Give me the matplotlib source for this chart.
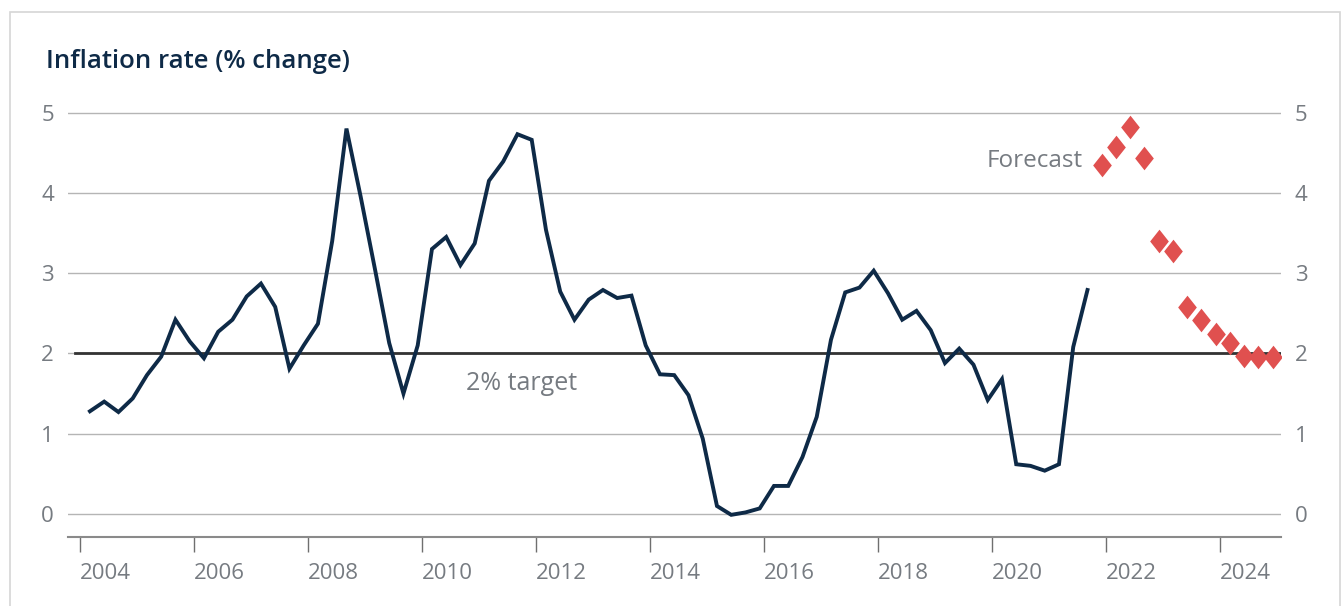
import numpy as np
import matplotlib
matplotlib.use("Agg")
import matplotlib.pyplot as plt

plt.rcParams['font.family'] = ['Open Sans', 'DejaVu Sans']

# quarterly CPI inflation, 2004 Q1 .. 2021 Q3
actual = [1.28, 1.40, 1.27, 1.44, 1.73, 1.96, 2.42, 2.15,
          1.94, 2.27, 2.42, 2.71, 2.87, 2.58, 1.81, 2.10,
          2.37, 3.40, 4.80, 3.95, 3.05, 2.13, 1.50, 2.10,
          3.30, 3.45, 3.10, 3.37, 4.15, 4.39, 4.73, 4.66,
          3.54, 2.77, 2.42, 2.67, 2.79, 2.69, 2.72, 2.10,
          1.74, 1.73, 1.48, 0.94, 0.10, -0.01, 0.02, 0.07,
          0.35, 0.35, 0.71, 1.21, 2.17, 2.76, 2.82, 3.03,
          2.75, 2.42, 2.53, 2.29, 1.88, 2.06, 1.86, 1.42,
          1.68, 0.62, 0.60, 0.54, 0.62, 2.08, 2.79]
# forecast, 2021 Q4 .. 2024 Q4
forecast = [4.35, 4.57, 4.82, 4.43, 3.40, 3.27, 2.58, 2.42,
            2.24, 2.13, 1.97, 1.96, 1.96]
year_ticks = [2004, 2006, 2008, 2010, 2012, 2014, 2016, 2018, 2020, 2022, 2024]
y_ticks = [0, 1, 2, 3, 4, 5]

t_act = 2004.175 + 0.25 * np.arange(len(actual))
t_fc = t_act[-1] + 0.25 * np.arange(1, len(forecast) + 1)

navy = '#0e2a47'
grey_txt = '#767b81'
red = '#e0504f'

fig = plt.figure(figsize=(13.43, 6.06), dpi=100)
fig.patches.append(plt.Rectangle((9.5 / 1343, -0.05), (1340 - 9.5) / 1343, 1.05 - 12 / 606,
                                 transform=fig.transFigure, fill=False,
                                 edgecolor='#d6d6d6', lw=1.2))
ax = fig.add_axes([68 / 1343, 69 / 606, (1281 - 68) / 1343, (537 - 100) / 606])

ax.set_xlim(2003.79, 2025.07)
ax.set_ylim(-0.286, 5.156)

ax.set_yticks(y_ticks)
ax.grid(axis='y', color='#b5b5b5', lw=1.0)
ax.set_axisbelow(True)
ax.axhline(2, xmin=0.006, color='#333333', lw=2.0, zorder=2)

ax.plot(t_act, actual, color=navy, lw=2.8, solid_joinstyle='miter', zorder=3)
ax.plot(t_fc, forecast, ls='none', marker=[(0, 1.2), (0.95, 0), (0, -1.2), (-0.95, 0)],
        ms=17, color=red, mec='none', zorder=4)

ax.set_xticks(year_ticks)
ax.set_xticklabels([str(y) for y in year_ticks], ha='left')
ax.tick_params(axis='x', length=11, width=1, color='#6f6f6f', labelsize=16,
               labelcolor=grey_txt, pad=8)
ax.tick_params(axis='y', length=0, labelsize=16, labelcolor=grey_txt,
               labelleft=True, labelright=True, pad=10)

for s in ['left', 'right', 'top']:
    ax.spines[s].set_visible(False)
ax.spines['bottom'].set_color('#8a8a8a')
ax.spines['bottom'].set_linewidth(1.5)

ax.text(2011.74, 1.63, '2% target', fontsize=18, color=grey_txt, ha='center', va='center')
ax.text(t_fc[0] - 0.33, 4.4, 'Forecast', fontsize=17.5, color=grey_txt, ha='right', va='center')

fig.text(46 / 1343, 1 - 61 / 606, 'Inflation rate (% change)', fontsize=18.5,
         color=navy, fontweight='semibold', ha='left', va='center')

fig.savefig('out.png', dpi=100)
